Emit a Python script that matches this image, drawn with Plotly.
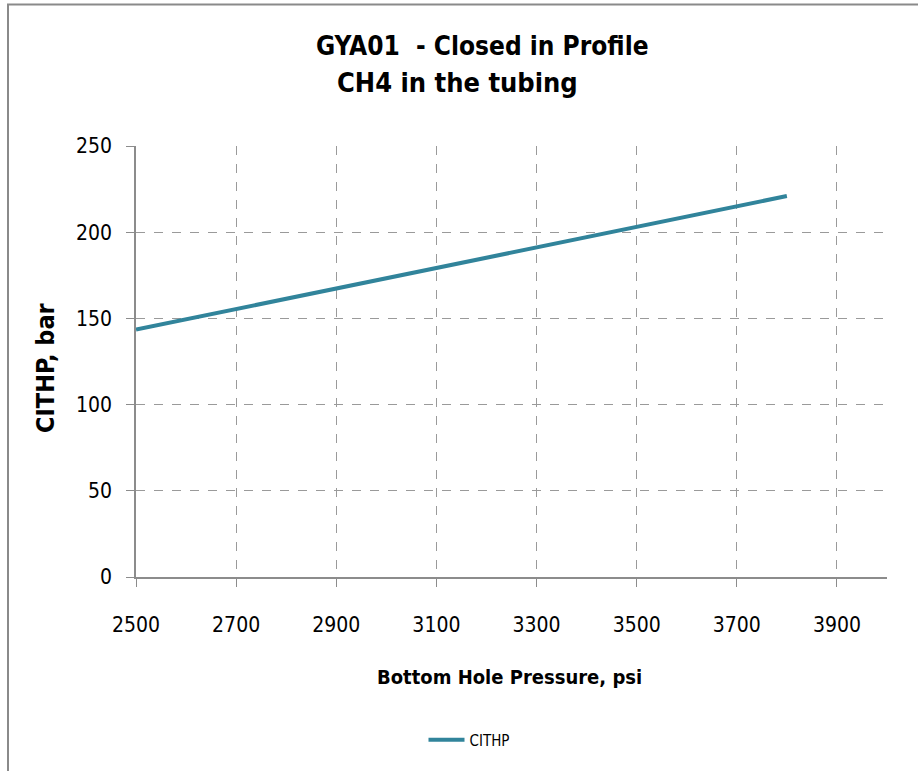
import plotly.graph_objects as go

# Closed-in tubing head pressure vs bottom hole pressure (CH4 column)
bhp_psi = [2500, 2600, 2700, 2800, 2900, 3000, 3100, 3200, 3300, 3400, 3500, 3600, 3700, 3800]
cithp_bar = [143.5, 149.5, 155.5, 161.5, 167.4, 173.4, 179.3, 185.3, 191.2, 197.1, 203.0, 209.0, 215.0, 221.0]

x_ticks = [2500, 2700, 2900, 3100, 3300, 3500, 3700, 3900]
y_ticks = [0, 50, 100, 150, 200, 250]

title_lines = ["GYA01  - Closed in Profile", "CH4 in the tubing"]
x_title = "Bottom Hole Pressure, psi"
y_title = "CITHP, bar"

FONT = "DejaVu Sans Condensed, Liberation Sans Narrow, sans-serif"
LINE_COLOR = "#31849B"
GRID = "#9a9a9a"
AXIS = "#8c8c8c"

W, H = 918, 771
ML, MR, MT, MB = 136, 31, 146, 194
PW, PH = W - ML - MR, H - MT - MB


def px_to_paper_x(px):
    return (px - ML) / PW


def px_to_paper_y(py):
    return 1 + (MT - py) / PH


fig = go.Figure()
fig.add_trace(go.Scatter(
    x=bhp_psi, y=cithp_bar, mode="lines", name="CITHP",
    line=dict(color=LINE_COLOR, width=4),
))

# outer chart frame (partly clipped at the right and bottom edges)
x0 = px_to_paper_x(8)
x1 = px_to_paper_x(W + 20)
y_top = px_to_paper_y(4.5)
y_bot = px_to_paper_y(H + 20)
fig.add_shape(type="path", xref="paper", yref="paper",
              path=f"M {x0} {y_bot} L {x0} {y_top} L {x1} {y_top}",
              line=dict(color="#8a8a8a", width=2))

# two-line chart title
for text, cx, cy, size in [(title_lines[0], 482, 46, 26), (title_lines[1], 457, 83, 27)]:
    fig.add_annotation(text=f"<b>{text}</b>", xref="paper", yref="paper",
                       x=px_to_paper_x(cx), y=px_to_paper_y(cy),
                       xanchor="center", yanchor="middle", showarrow=False,
                       font=dict(size=size, family=FONT, color="black"))

# axis titles
fig.add_annotation(text=f"<b>{x_title}</b>", xref="paper", yref="paper",
                   x=px_to_paper_x(509), y=px_to_paper_y(677),
                   xanchor="center", yanchor="middle", showarrow=False,
                   font=dict(size=20, family=FONT, color="black"))
fig.add_annotation(text=f"<b>{y_title}</b>", xref="paper", yref="paper",
                   x=px_to_paper_x(45), y=px_to_paper_y(368), textangle=-90,
                   xanchor="center", yanchor="middle", showarrow=False,
                   font=dict(size=25, family=FONT, color="black"))

fig.update_layout(
    width=W, height=H,
    margin=dict(l=ML, r=MR, t=MT, b=MB),
    paper_bgcolor="white", plot_bgcolor="white",
    font=dict(family=FONT, color="black"),
    showlegend=True,
    legend=dict(orientation="h", x=px_to_paper_x(469), xanchor="center",
                y=px_to_paper_y(740), yanchor="middle",
                font=dict(size=15, family=FONT), itemwidth=36),
    xaxis=dict(
        range=[2500, 4000], tickvals=x_ticks, ticks="outside", ticklen=8,
        tickcolor=AXIS, showline=True, linecolor=AXIS, linewidth=1.5,
        showgrid=True, gridcolor=GRID, griddash="dash", gridwidth=1,
        zeroline=False, tickfont=dict(size=21, family=FONT),
        ticklabelstandoff=20,
    ),
    yaxis=dict(
        range=[0, 250], tickvals=y_ticks, ticks="outside", ticklen=8,
        tickcolor=AXIS, showline=True, linecolor=AXIS, linewidth=1.5,
        showgrid=True, gridcolor=GRID, griddash="dash", gridwidth=1,
        zeroline=False, tickfont=dict(size=21, family=FONT),
        ticklabelstandoff=10,
    ),
)

fig.write_html("out.html")
